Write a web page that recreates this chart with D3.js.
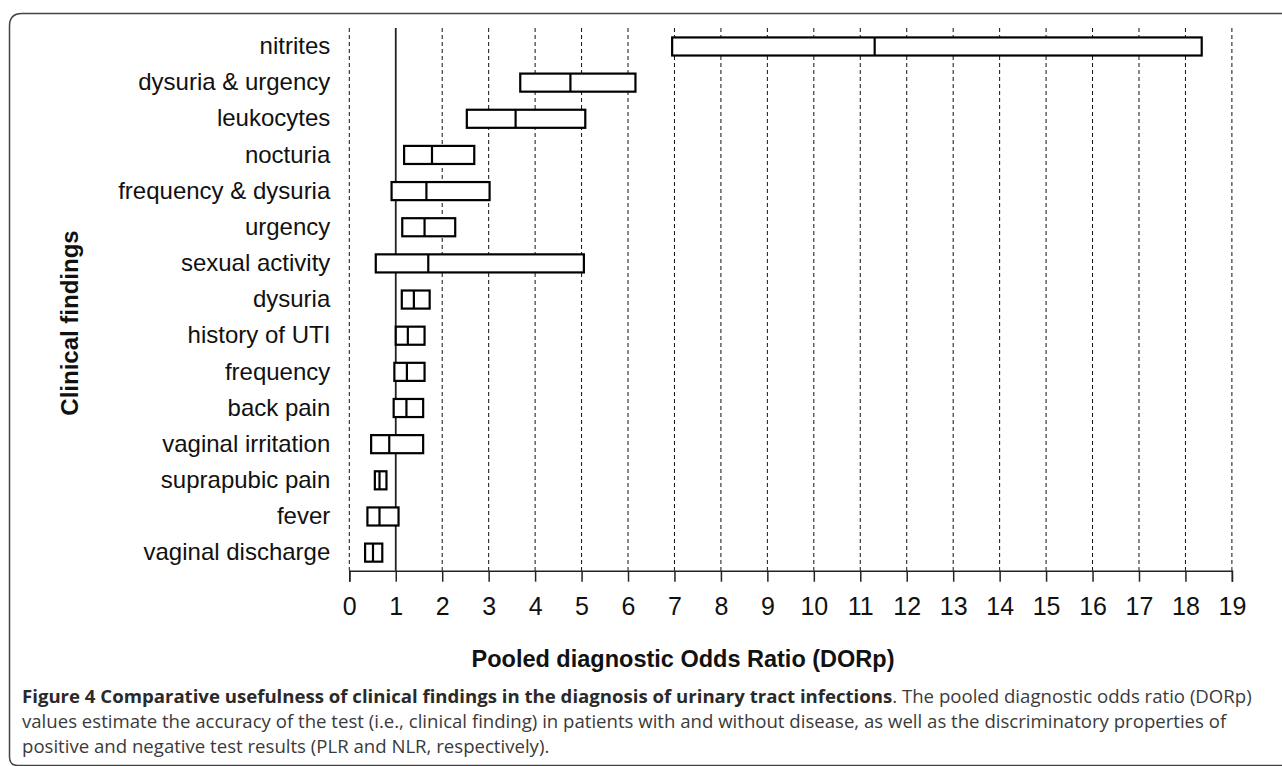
<!DOCTYPE html>
<html><head><meta charset="utf-8">
<script src="https://cdn.jsdelivr.net/npm/d3@7"></script>
<style>body{margin:0;background:#fff}svg{display:block}</style>
</head><body>
<svg id="chart" width="1282" height="766"></svg>
<script>
const categories = ["nitrites","dysuria & urgency","leukocytes","nocturia","frequency & dysuria","urgency","sexual activity","dysuria","history of UTI","frequency","back pain","vaginal irritation","suprapubic pain","fever","vaginal discharge"];
const lowerCI = [6.95,3.68,2.53,1.18,0.91,1.14,0.57,1.13,1.00,0.97,0.955,0.47,0.55,0.39,0.34];
const pooled  = [11.31,4.76,3.58,1.78,1.66,1.62,1.70,1.39,1.26,1.24,1.23,0.86,0.65,0.65,0.51];
const upperCI = [18.35,6.16,5.08,2.69,3.02,2.28,5.05,1.73,1.62,1.62,1.59,1.59,0.80,1.06,0.71];
const xTicks = d3.range(0, 20);
const xTitle = "Pooled diagnostic Odds Ratio (DORp)";
const yTitle = "Clinical findings";
const captionBold = "Figure 4 Comparative usefulness of clinical findings in the diagnosis of urinary tract infections";
const captionLines = [". The pooled diagnostic odds ratio (DORp)",
  "values estimate the accuracy of the test (i.e., clinical finding) in patients with and without disease, as well as the discriminatory properties of",
  "positive and negative test results (PLR and NLR, respectively)."];

const svg = d3.select("#chart");
const rows = categories.map((c,i)=>({c, lo:lowerCI[i], md:pooled[i], hi:upperCI[i]}));

// frame
svg.append("path")
  .attr("d", "M1300,13.5 H22 Q9.5,13.5 9.5,26 V757 Q9.5,765.5 18,765.5 H1300")
  .attr("fill","none").attr("stroke","#444").attr("stroke-width",1.5);

const x = d3.scaleLinear().domain([0,19]).range([349.3,1231.9]);
const y = d3.scaleBand().domain(categories).range([28.4,570.7]).paddingInner(0.5).paddingOuter(0.25);
const axisY = 570.7;

// gridlines
svg.append("g").selectAll("line").data(xTicks).join("line")
  .attr("x1",d=>x(d)).attr("x2",d=>x(d)).attr("y1",28).attr("y2",axisY)
  .attr("stroke", d=>d===1?"#222":"#111")
  .attr("stroke-width", d=>d===1?1.8:1)
  .attr("stroke-dasharray", d=>d===1?null:"4,3");

// x axis
const xAxis = d3.axisBottom(x).tickValues(xTicks).tickSize(11).tickPadding(16).tickFormat(d3.format("d"));
const gx = svg.append("g").attr("transform",`translate(0,${axisY})`).call(xAxis);
gx.select(".domain").attr("stroke","#222").attr("stroke-width",1.5);
gx.selectAll(".tick line").attr("stroke","#222").attr("stroke-width",1.5);
gx.selectAll(".tick text").attr("font-family","Liberation Sans, Arial, sans-serif").attr("font-size",25).attr("fill","#111");

// y labels
const yAxis = d3.axisLeft(y).tickSize(0).tickPadding(19);
const gy = svg.append("g").attr("transform",`translate(${x(0)},0)`).call(yAxis);
gy.select(".domain").remove();
gy.selectAll(".tick text").attr("font-family","Liberation Sans, Arial, sans-serif").attr("font-size",24).attr("fill","#111");

// boxes
const bh = y.bandwidth();
const g = svg.append("g");
g.selectAll("rect").data(rows).join("rect")
  .attr("x",d=>x(d.lo)).attr("width",d=>x(d.hi)-x(d.lo))
  .attr("y",d=>y(d.c)).attr("height",bh)
  .attr("fill","#fff").attr("stroke","#000").attr("stroke-width",2.2);
g.selectAll("line.med").data(rows).join("line").attr("class","med")
  .attr("x1",d=>x(d.md)).attr("x2",d=>x(d.md))
  .attr("y1",d=>y(d.c)).attr("y2",d=>y(d.c)+bh)
  .attr("stroke","#000").attr("stroke-width",2.2);

// titles
svg.append("text").attr("x",683).attr("y",667).attr("text-anchor","middle")
  .attr("font-family","Liberation Sans, Arial, sans-serif").attr("font-weight","bold").attr("font-size",23.5).attr("fill","#111")
  .text(xTitle);
svg.append("text").attr("transform","translate(78,323) rotate(-90)").attr("text-anchor","middle")
  .attr("font-family","Liberation Sans, Arial, sans-serif").attr("font-weight","bold").attr("font-size",24).attr("fill","#111")
  .text(yTitle);

// caption
const cap = svg.append("g").attr("font-family","Open Sans, sans-serif").attr("font-size",18.6).attr("fill","#3a3a3a");
const t1 = cap.append("text").attr("x",22).attr("y",703);
t1.append("tspan").attr("font-weight","bold").attr("fill","#2a2a2a").text(captionBold);
t1.append("tspan").text(captionLines[0]);
cap.append("text").attr("x",22).attr("y",728).text(captionLines[1]);
cap.append("text").attr("x",22).attr("y",753).text(captionLines[2]);
</script>
</body></html>
